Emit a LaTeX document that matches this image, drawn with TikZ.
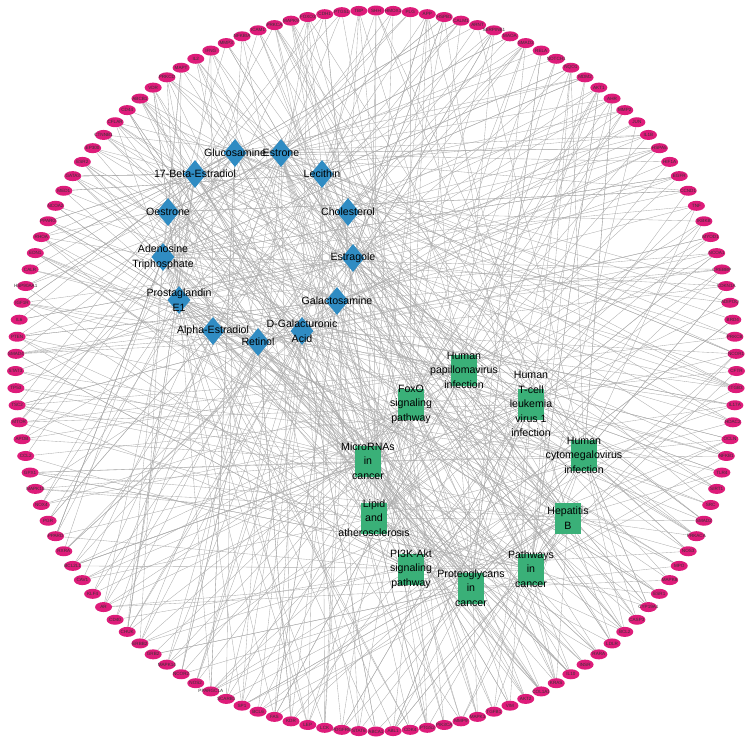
\documentclass[tikz,border=0pt]{standalone}
\usepackage{fontspec}
\setmainfont{Liberation Sans}
\usetikzlibrary{shapes.geometric,backgrounds,calc}
\definecolor{genepink}{RGB}{222,28,122}
\definecolor{drugblue}{RGB}{48,140,195}
\definecolor{pathgreen}{RGB}{58,176,120}
\definecolor{edgegray}{RGB}{172,172,172}
\tikzset{
  gene/.style={ellipse,fill=genepink,minimum width=17,minimum height=10,inner sep=0},
  genetext/.style={font=\fontsize{4.6}{5}\selectfont,text=black!80,inner sep=0},
  drug/.style={diamond,fill=drugblue,minimum width=23,minimum height=28,inner sep=0},
  pathway/.style={rectangle,fill=pathgreen,minimum width=26,minimum height=31,inner sep=0},
  hubtext/.style={font=\fontsize{10.6}{14.6}\selectfont,align=center,text=black,inner sep=0},
  link/.style={edgegray,line width=0.35pt}
}
\begin{document}
\begin{tikzpicture}[x=1pt,y=-1pt]
        \useasboundingbox (0,0) rectangle (750,742);
        % compounds
        \node[drug] (h1) at (235,153) {};
        \node[drug] (h2) at (281,153) {};
        \node[drug] (h3) at (195,174) {};
        \node[drug] (h4) at (322,174) {};
        \node[drug] (h5) at (168,212) {};
        \node[drug] (h6) at (348,212) {};
        \node[drug] (h7) at (163,257) {};
        \node[drug] (h8) at (353,258) {};
        \node[drug] (h9) at (179,300) {};
        \node[drug] (h10) at (337,301) {};
        \node[drug] (h11) at (213,331) {};
        \node[drug] (h12) at (258,342) {};
        \node[drug] (h13) at (302,331) {};
        % pathways
        \node[pathway] (h14) at (464,370) {};
        \node[pathway] (h15) at (411,404) {};
        \node[pathway] (h16) at (531,404) {};
        \node[pathway] (h17) at (584,455) {};
        \node[pathway] (h18) at (368,461) {};
        \node[pathway] (h19) at (374,518) {};
        \node[pathway] (h20) at (568,518) {};
        \node[pathway] (h21) at (411,569) {};
        \node[pathway] (h22) at (531,569) {};
        \node[pathway] (h23) at (471,588) {};
        % names of the compounds and pathways
        \foreach \hub/\txt in {h1/Glucosamine,h2/Estrone,h3/17-Beta-Estradiol,h4/Lecithin,h5/Oestrone,h6/Cholesterol,
            h7/{Adenosine\\Triphosphate},h8/Estragole,h9/{Prostaglandin\\E1},h10/Galactosamine,h11/Alpha-Estradiol,
            h12/Retinol,h13/{D-Galacturonic\\Acid},h14/{Human\\papillomavirus\\infection},h15/{FoxO\\signaling\\pathway},
            h16/{Human\\T-cell\\leukemia\\virus 1\\infection},h17/{Human\\cytomegalovirus\\infection},h18/{MicroRNAs\\in\\cancer},
            h19/{Lipid\\and\\atherosclerosis},h20/{Hepatitis\\B},h21/{PI3K-Akt\\signaling\\pathway},h22/{Pathways\\in\\cancer},
            h23/{Proteoglycans\\in\\cancer}}
            \node[hubtext] (\hub-txt) at (\hub) {\txt};
        % targets on the ring
        \foreach \gname [count=\i from 0] in {SHH,HMOX1,PLG,APP,HSPB1,CALM1,ARNT,SERPINE1,MAOA,SMAD3,RELA,NOTCH1,NQO1,MDM2,AKT1,AHR,MMP2,JUN,IL1B,HSPA5,HIF1A,EGFR,CCND1,TNF,IKBKB,MYOD1,NCOA1,CREBBP,CDKN1A,ADIPOQ,BRD4,PRKCB,NCOR1,
            CFTR,ITGB3,IL17A,HDAC2,OCLN,NFKB1,TLR4,SIRT1,SRC,SMAD2,PRKACA,NOS3,MPO,MAPK8,ESR1,CYP19A1,CASP3,BCL2,LDLR,RARA,INSR,IL10,KRAS,COL1A1,AKT2,VIM,TGFB1,MAPK3,MMP9,PIK3CA,PTGS2,CDK4,ABL1,
            ABCA1,STAT6,PDGFRB,LCK,LEP,KDR,FAS,BCL6,SP1,SCARB1,PPARGC1A,NOS2,NCOR2,MAPK14,GRB2,ERBB2,CHUK,CD40,AR,KLF4,CAV1,BCL2L1,RXRA,PPARD,PGR,NOX4,MAPK10,GPX1,CCL2,APOB,MTOR,TSC2,TP53,
            STAT3,SMAD4,PTEN,IL6,IGF1R,HSP90AA1,CALR,EDN1,RHOA,PPARG,NCOA2,MED1,GATA3,ESR2,EP300,CTNNB1,CFLAR,CD44,ABCB1,VDR,PRKCD,MAPT,IL2,IFNG,MMP3,NFKBIA,ICAM1,PRKCA,MAPK9,FOXO3,CDH1,PTGS1,TBP}
            \node[gene,label={[genetext]center:\gname}] (g\i) at ($(376,371)+({-90+\i*2.727273}:360.5)$) {};
        % links
        \pgfmathsetseed{17}
        \begin{pgfonlayer}{background}
        \foreach \i in {0,...,131}{
            \pgfmathrandominteger{\k}{3}{7}
            \foreach \j in {1,...,\k}{
                \pgfmathrandominteger{\h}{1}{23}
                \draw[link] (g\i) -- (h\h);
            }
        }
        \end{pgfonlayer}
\end{tikzpicture}
\end{document}
